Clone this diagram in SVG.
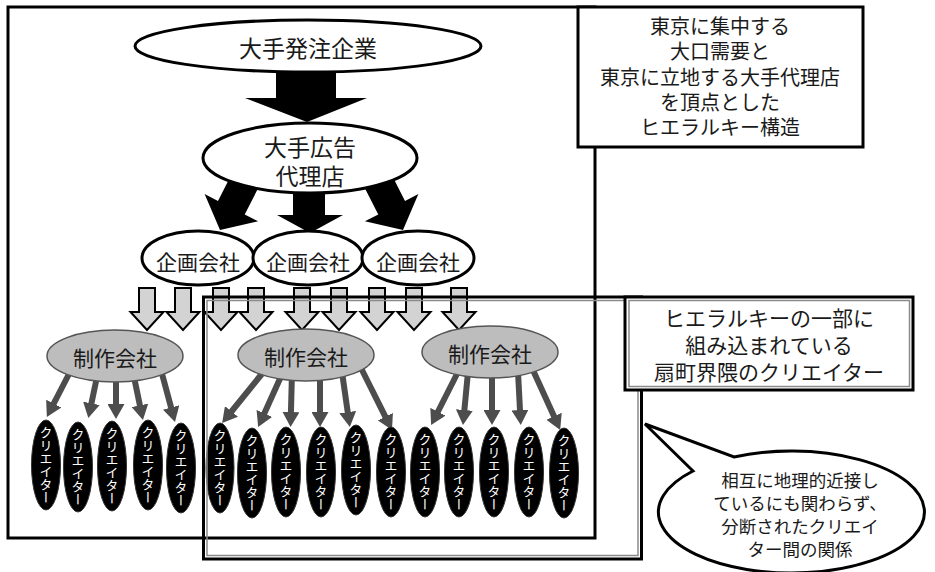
<svg xmlns="http://www.w3.org/2000/svg" width="935" height="572" viewBox="0 0 935 572">
<style>
text{font-family:"Noto Sans CJK JP","Noto Sans",sans-serif;fill:#1a1a1a;text-anchor:middle;dominant-baseline:central}
.t24{font-size:23px}
.t21{font-size:21px}
.t20{font-size:20px}
.t17{font-size:17.5px}
.wel{fill:#fff;stroke:#000;stroke-width:3}
.big{fill:#000}
.hol{fill:#d3d3d3;stroke:#000;stroke-width:2;stroke-linejoin:miter}
.pro{fill:#bdbdbd;stroke:#555;stroke-width:1.5}
.pa{stroke:#4d4d4d;stroke-width:6;fill:none;marker-end:url(#ah)}
.cre{fill:#000;stroke:#333;stroke-width:1}
.cr{fill:#fff;font-size:13px;writing-mode:vertical-rl}
.box{fill:#fff;stroke:#000;stroke-width:3}
.frame{fill:none;stroke:#000;stroke-width:3}
.inner{fill:none;stroke:#8a8a8a;stroke-width:1.5}
</style>
<defs>
<marker id="ah" markerUnits="userSpaceOnUse" markerWidth="17" markerHeight="17" viewBox="0 0 17 17" refX="2" refY="8.5" orient="auto"><path d="M0,0 L15,8.5 L0,17 Z" fill="#4d4d4d"/></marker>
<polygon id="hollow" points="-8,288 8,288 8,312 16.5,312 0,330 -16.5,312 -8,312"/>
<polygon id="slant" points="-15,-75 15,-75 15,-25 30,-25 0,0 -30,-25 -15,-25"/>
</defs>

<g id="main-frame"><rect class="frame" x="8" y="7" width="587" height="531"/></g>
<g id="note-tokyo">
<rect class="box" x="578" y="7" width="285" height="140"/>
<text class="t20" x="720" y="25">東京に集中する</text>
<text class="t20" x="720" y="50">大口需要と</text>
<text class="t20" x="720" y="76">東京に立地する大手代理店</text>
<text class="t20" x="720" y="101">を頂点とした</text>
<text class="t20" x="720" y="126">ヒエラルキー構造</text>
</g>

<g id="connectors">
<polygon class="big" points="276,66 336,66 336,98 367,98 307,122 245,98 276,98"/>
<polygon class="big" points="293,185 325,185 325,215 343,215 310,233 277,215 293,215"/>
<use href="#slant" class="big" transform="translate(220,230) rotate(27)"/>
<use href="#slant" class="big" transform="translate(403,230) rotate(-27)"/>
<g class="hol">
<use href="#hollow" x="147"/><use href="#hollow" x="183"/><use href="#hollow" x="221"/>
<use href="#hollow" x="256"/><use href="#hollow" x="302"/><use href="#hollow" x="339"/>
<use href="#hollow" x="377"/><use href="#hollow" x="414"/><use href="#hollow" x="459"/>
</g>
<line class="pa" x1="70" y1="372" x2="52.8" y2="405.4"/>
<line class="pa" x1="98" y1="372" x2="91" y2="405.3"/>
<line class="pa" x1="116" y1="372" x2="116" y2="406"/>
<line class="pa" x1="133" y1="372" x2="140.3" y2="407.3"/>
<line class="pa" x1="161" y1="370" x2="171.6" y2="409.4"/>
<line class="pa" x1="265" y1="370" x2="230.3" y2="413"/>
<line class="pa" x1="283" y1="372" x2="263.5" y2="415.2"/>
<line class="pa" x1="292" y1="372" x2="290.9" y2="414"/>
<line class="pa" x1="320" y1="372" x2="320" y2="414"/>
<line class="pa" x1="342" y1="372" x2="348" y2="414.1"/>
<line class="pa" x1="358" y1="362" x2="386.2" y2="418.4"/>
<line class="pa" x1="459" y1="370" x2="437" y2="413.5"/>
<line class="pa" x1="468" y1="372" x2="464.2" y2="412"/>
<line class="pa" x1="492" y1="372" x2="492" y2="412"/>
<line class="pa" x1="518" y1="372" x2="520.1" y2="412"/>
<line class="pa" x1="532" y1="368" x2="554.8" y2="418.1"/>
</g>

<g id="client"><ellipse class="wel" cx="308" cy="46" rx="173" ry="26"/><text class="t24" x="308" y="47">大手発注企業</text></g>
<g id="agency"><ellipse class="wel" cx="310" cy="158" rx="107" ry="35"/><text class="t24" x="310" y="146">大手広告</text><text class="t24" x="310" y="175">代理店</text></g>
<g id="plan1"><ellipse class="wel" cx="198" cy="258" rx="56" ry="27"/><text class="t21" x="198" y="261">企画会社</text></g>
<g id="plan2"><ellipse class="wel" cx="308" cy="258" rx="55" ry="27"/><text class="t21" x="308" y="261">企画会社</text></g>
<g id="plan3"><ellipse class="wel" cx="418" cy="258" rx="56" ry="27"/><text class="t21" x="418" y="261">企画会社</text></g>

<g id="prod1"><ellipse class="pro" cx="115" cy="356" rx="68" ry="26"/><text class="t21" x="115" y="357">制作会社</text></g>
<g id="prod2"><ellipse class="pro" cx="306" cy="355" rx="68" ry="26"/><text class="t21" x="306" y="356">制作会社</text></g>
<g id="prod3"><ellipse class="pro" cx="490" cy="352" rx="68" ry="26"/><text class="t21" x="490" y="353">制作会社</text></g>

<g id="creators">
<g id="c1"><ellipse class="cre" cx="46" cy="465" rx="14.5" ry="45"/><text class="cr" x="46" y="465">クリエイター</text></g>
<g id="c2"><ellipse class="cre" cx="78" cy="467" rx="14.5" ry="45"/><text class="cr" x="78" y="467">クリエイター</text></g>
<g id="c3"><ellipse class="cre" cx="112" cy="466" rx="14.5" ry="45"/><text class="cr" x="112" y="466">クリエイター</text></g>
<g id="c4"><ellipse class="cre" cx="148" cy="465" rx="14.5" ry="45"/><text class="cr" x="148" y="465">クリエイター</text></g>
<g id="c5"><ellipse class="cre" cx="181" cy="468" rx="14.5" ry="45"/><text class="cr" x="181" y="468">クリエイター</text></g>
<g id="c6"><ellipse class="cre" cx="220" cy="468" rx="14" ry="45"/><text class="cr" x="220" y="468">クリエイター</text></g>
<g id="c7"><ellipse class="cre" cx="252" cy="473" rx="14.5" ry="45"/><text class="cr" x="252" y="473">クリエイター</text></g>
<g id="c8"><ellipse class="cre" cx="286" cy="472" rx="14.5" ry="45"/><text class="cr" x="286" y="472">クリエイター</text></g>
<g id="c9"><ellipse class="cre" cx="321" cy="472" rx="14.5" ry="45"/><text class="cr" x="321" y="472">クリエイター</text></g>
<g id="c10"><ellipse class="cre" cx="356" cy="470" rx="14.5" ry="45"/><text class="cr" x="356" y="470">クリエイター</text></g>
<g id="c11"><ellipse class="cre" cx="391" cy="472" rx="14.5" ry="45"/><text class="cr" x="391" y="472">クリエイター</text></g>
<g id="c12"><ellipse class="cre" cx="425" cy="472" rx="14.5" ry="45"/><text class="cr" x="425" y="472">クリエイター</text></g>
<g id="c13"><ellipse class="cre" cx="459" cy="472" rx="14.5" ry="45"/><text class="cr" x="459" y="472">クリエイター</text></g>
<g id="c14"><ellipse class="cre" cx="494" cy="472" rx="14.5" ry="45"/><text class="cr" x="494" y="472">クリエイター</text></g>
<g id="c15"><ellipse class="cre" cx="529" cy="472" rx="14.5" ry="45"/><text class="cr" x="529" y="472">クリエイター</text></g>
<g id="c16"><ellipse class="cre" cx="564" cy="473" rx="14.5" ry="45"/><text class="cr" x="564" y="473">クリエイター</text></g>
</g>

<g id="ogimachi-frame">
<rect class="frame" x="203.5" y="297" width="438" height="262"/>
<rect class="inner" x="207" y="300.5" width="431" height="255"/>
</g>
<g id="note-ogimachi">
<rect class="box" x="625" y="297" width="288" height="93"/>
<rect class="inner" x="629" y="300.5" width="280.5" height="86"/>
<text class="t21" x="769" y="317">ヒエラルキーの一部に</text>
<text class="t21" x="769" y="344">組み込まれている</text>
<text class="t21" x="769" y="371">扇町界隈のクリエイター</text>
</g>
<g id="bubble">
<path d="M693,471 L645,424 L734,457 A133,61 0 1 1 693,471 Z" fill="#fff" stroke="#000" stroke-width="3" stroke-linejoin="miter"/>
<text class="t17" x="800" y="479">相互に地理的近接し</text>
<text class="t17" x="800" y="502">ているにも関わらず、</text>
<text class="t17" x="800" y="525">分断されたクリエイ</text>
<text class="t17" x="800" y="548">ター間の関係</text>
</g>
</svg>
